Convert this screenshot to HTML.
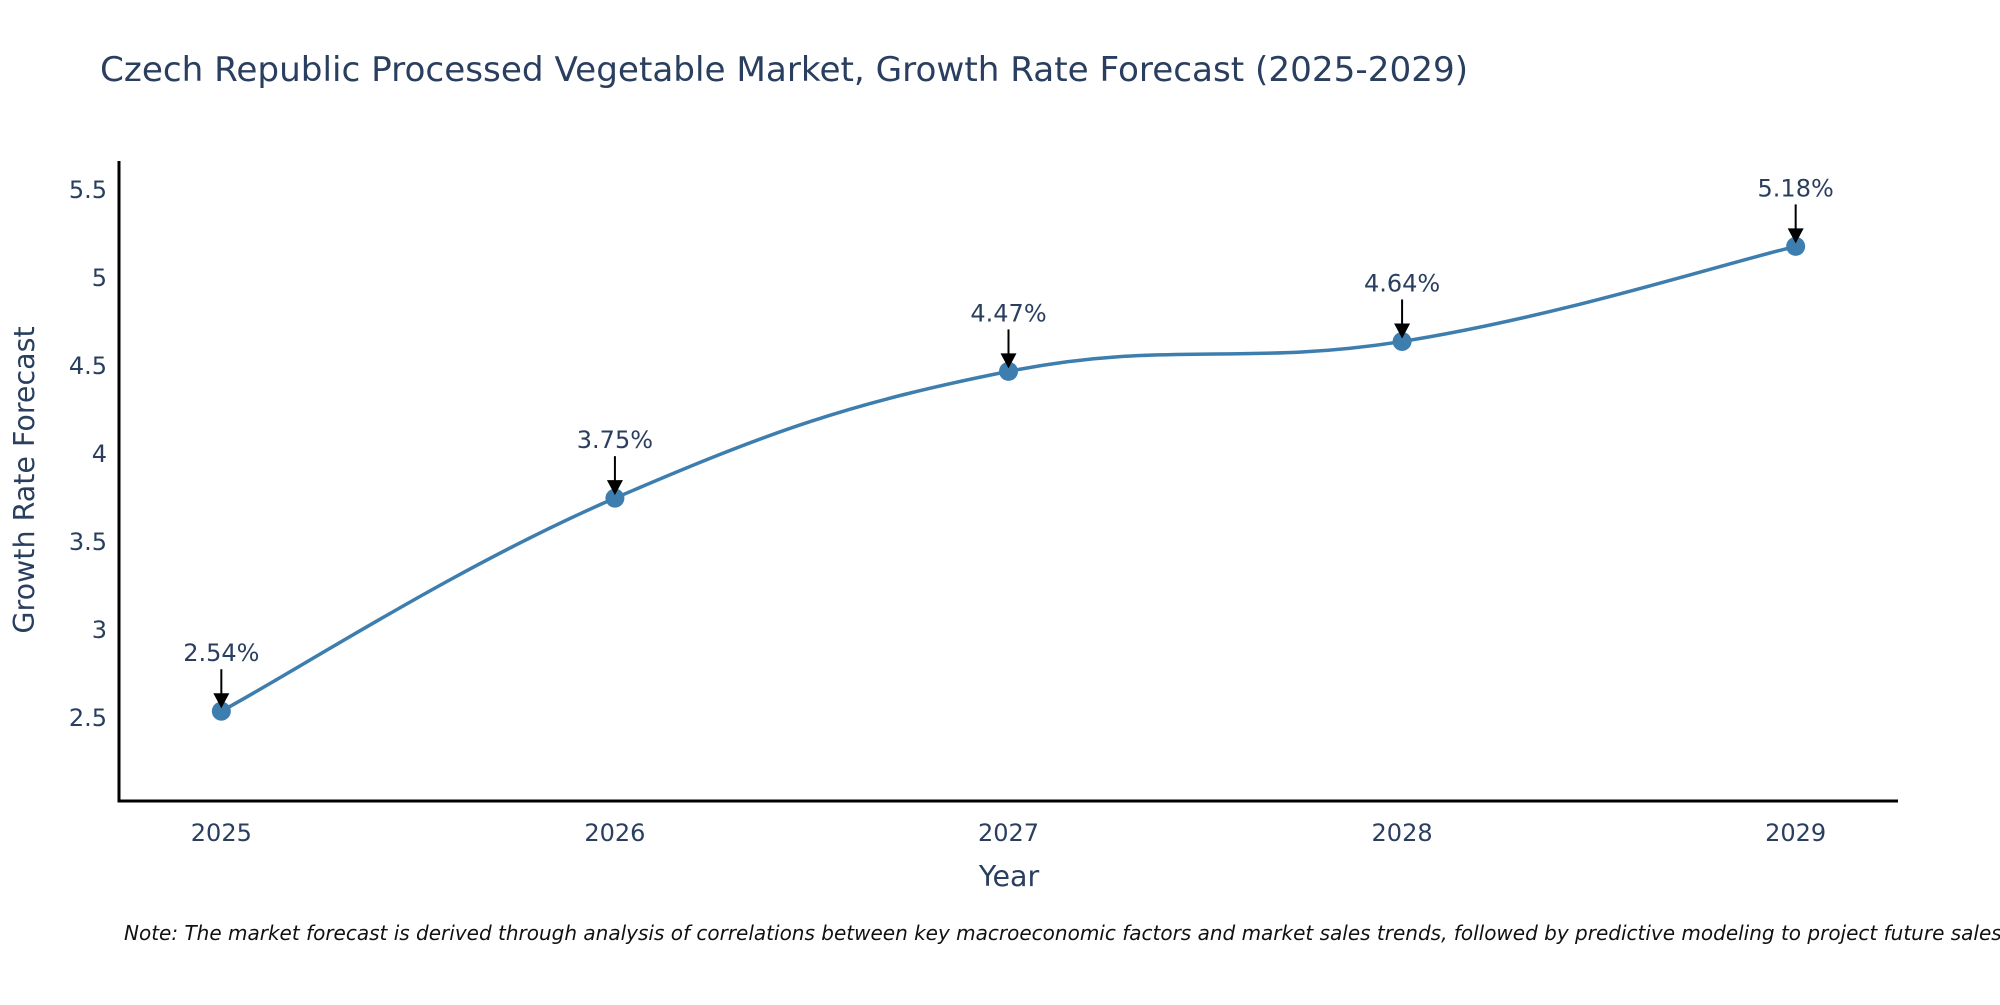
<!DOCTYPE html>
<html><head><meta charset="utf-8"><style>
html,body{margin:0;padding:0;background:#fff;}
svg text{font-family:"DejaVu Sans","Liberation Sans",sans-serif;fill:#2a3f5f;}
</style></head><body>
<svg id="chart" width="2000" height="1000" xmlns="http://www.w3.org/2000/svg">
<text x="100" y="81" font-size="34.2">Czech Republic Processed Vegetable Market, Growth Rate Forecast (2025-2029)</text>
<g id="plot"></g>
<text transform="translate(34,480) rotate(-90)" text-anchor="middle" font-size="28.5">Growth Rate Forecast</text>
<text x="1009" y="886" text-anchor="middle" font-size="28.5">Year</text>
<text x="124" y="940" font-size="20" font-style="italic" style="fill:#111">Note: The market forecast is derived through analysis of correlations between key macroeconomic factors and market sales trends, followed by predictive modeling to project future sales.</text>
</svg>
<script>
const years = [2025, 2026, 2027, 2028, 2029];
const values = [2.54, 3.75, 4.47, 4.64, 5.18];
const labels = ["2.54%", "3.75%", "4.47%", "4.64%", "5.18%"];
const yTicks = [2.5, 3, 3.5, 4, 4.5, 5, 5.5];
const yTickLabels = ["2.5", "3", "3.5", "4", "4.5", "5", "5.5"];

const L=119,R=1898,T=161,B=801;
const xMin=2024.74, xMax=2029.26, yMin=2.03, yMax=5.665;
const sx=v=>L+(v-xMin)/(xMax-xMin)*(R-L);
const sy=v=>B-(v-yMin)/(yMax-yMin)*(B-T);
const NS="http://www.w3.org/2000/svg";
const g=document.getElementById('plot');
function mk(tag,attrs){const e=document.createElementNS(NS,tag);for(const k in attrs)e.setAttribute(k,attrs[k]);g.appendChild(e);return e;}

yTicks.forEach((t,i)=>{
  const e=mk('text',{x:L-12,y:sy(t)+8,'text-anchor':'end','font-size':24});
  
  
  e.textContent=yTickLabels[i];
});
years.forEach(y=>{
  const e=mk('text',{x:sx(y),y:B+40,'text-anchor':'middle','font-size':24});
  
  
  e.textContent=String(y);
});
const ax=mk('path',{d:`M${L},${T} L${L},${B} L${R},${B}`,stroke:'#000','stroke-width':3,fill:'none'});



const pts=years.map((y,i)=>[sx(y),sy(values[i])]);
let d=`M${pts[0][0]},${pts[0][1]}`;
const k=0.2;
for(let i=0;i<pts.length-1;i++){
  const p0=pts[Math.max(i-1,0)],p1=pts[i],p2=pts[i+1],p3=pts[Math.min(i+2,pts.length-1)];
  const c1=[p1[0]+(p2[0]-p0[0])*k,p1[1]+(p2[1]-p0[1])*k];
  const c2=[p2[0]-(p3[0]-p1[0])*k,p2[1]-(p3[1]-p1[1])*k];
  d+=` C${c1[0]},${c1[1]} ${c2[0]},${c2[1]} ${p2[0]},${p2[1]}`;
}
const line=mk('path',{d:d,stroke:'#3d7eae','stroke-width':3.5,fill:'none'});



pts.forEach((p,i)=>{
  const c=mk('circle',{cx:p[0],cy:p[1],r:9.5,fill:'#3d7eae'});
  
  
  const a=mk('line',{x1:p[0],y1:p[1]-42,x2:p[0],y2:p[1]-14,stroke:'#000','stroke-width':2});
  
  
  const h=mk('path',{d:`M${p[0]-8},${p[1]-18} L${p[0]+8},${p[1]-18} L${p[0]},${p[1]-3} Z`,fill:'#000'});
  
  
  const t=mk('text',{x:p[0],y:p[1]-50,'text-anchor':'middle','font-size':24});
  
  
  t.textContent=labels[i];
});
</script>
</body></html>
